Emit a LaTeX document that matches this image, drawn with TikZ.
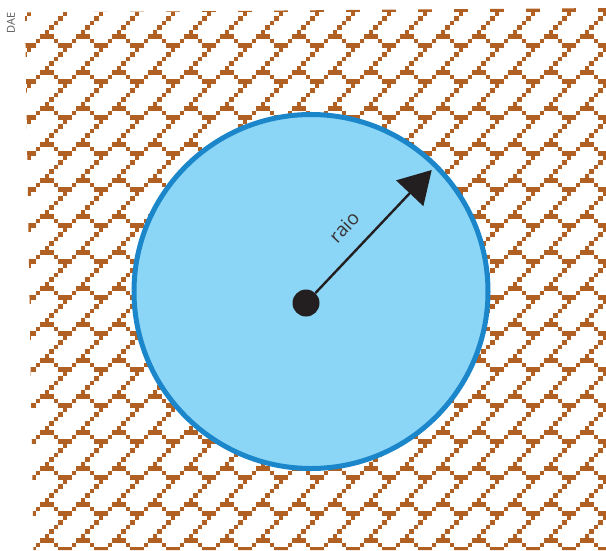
\documentclass[tikz,border=0pt]{standalone}
\usepackage{fontspec}
\setmainfont{Open Sans}
\usetikzlibrary{arrows.meta}

\definecolor{tijolo}{RGB}{176,96,34}
\definecolor{azulclaro}{RGB}{139,214,246}
\definecolor{azulborda}{RGB}{27,134,201}
\definecolor{tinta}{RGB}{35,31,32}

\tikzset{
  bloco/.style={fill=tijolo},
  ponto/.style={circle, fill=tinta, inner sep=0pt, minimum size=27pt},
  seta/.style={tinta, line width=2.4pt, -{Triangle[length=32pt,width=37pt]}},
  rotulo/.style={text=tinta!90, font=\fontsize{19}{21}\selectfont}
}

\begin{document}
\begin{tikzpicture}[x=1pt,y=-1pt]
  \useasboundingbox (0,0) rectangle (606,550);

  % fundo de tijolinhos
  \begin{scope}
    \clip (25,12.5) -- (606,8) -- (606,550) -- (33.5,550) -- cycle;
    \foreach \i in {-1,...,16}
      \foreach \j in {-1,...,14}
        \foreach \c/\r/\w in {1/0/1,0/1/3,3/2/1,7/2/1,4/3/3,5/4/1,4/5/1,3/6/1,2/7/1}
          \fill[bloco] ({40+36*\i+4.5*\c},{29.5+36*\j+4.5*\r}) rectangle ++({4.5*\w},4.5);
  \end{scope}

  \node[rotate=90, text=black!65, font=\fontsize{11}{12}\selectfont] (dae) at (11,23) {DAE};

  % circunferencia
  \draw[azulborda, fill=azulclaro, line width=5pt] (311,291.5) circle (177);

  % raio
  \node[ponto] (centro) at (306,303) {};
  \coordinate (ponta) at (431.7,170);
  \draw[seta] (centro) -- (ponta) node[rotulo, pos=0.4, sloped, above=13pt] (raio) {raio};
\end{tikzpicture}
\end{document}
